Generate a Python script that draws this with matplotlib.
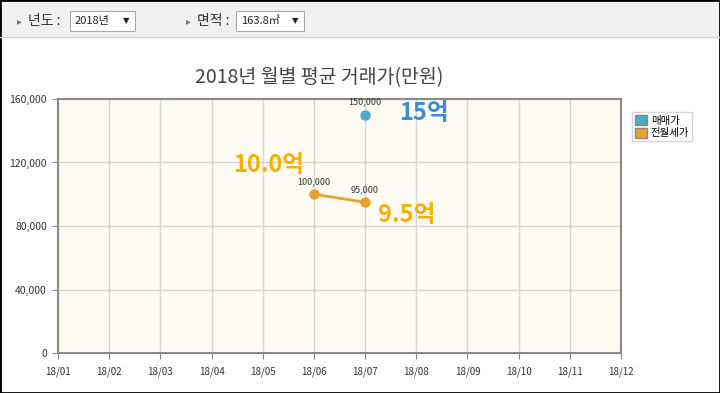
"""Recreate the 2018 monthly average transaction price chart."""
import matplotlib

matplotlib.use("Agg")
import matplotlib.pyplot as plt
from matplotlib.patches import Patch, Rectangle
from matplotlib.ticker import FuncFormatter

plt.rcParams["font.family"] = ["Noto Sans CJK KR", "DejaVu Sans"]

# data
months = ["18/01", "18/02", "18/03", "18/04", "18/05", "18/06",
          "18/07", "18/08", "18/09", "18/10", "18/11", "18/12"]
sale_months = ["18/07"]
sale_values = [150000]
rent_months = ["18/06", "18/07"]
rent_values = [100000, 95000]
y_ticks = [0, 40000, 80000, 120000, 160000]

title = "2018년 월별 평균 거래가(만원)"
series_names = ["매매가", "전월세가"]
callouts = [("15억", "18/07", 151000, "#3d8ad8", 1.15),
            ("10.0억", "18/06", 118500, "#f5b000", -0.88),
            ("9.5억", "18/07", 87000, "#f5b000", 0.82)]

SALE_COLOR = "#4aacc5"
RENT_COLOR = "#e8a12e"

fig = plt.figure(figsize=(7.2, 3.93), dpi=100)
fig.patch.set_facecolor("white")

# top filter bar
fig.patches.append(Rectangle((0, 1 - 37 / 393), 1, 37 / 393, transform=fig.transFigure,
                             facecolor="#f1f1f1", edgecolor="none", zorder=0))
fig.lines.append(plt.Line2D([0, 1], [1 - 37 / 393] * 2, transform=fig.transFigure,
                            color="#d4d4d4", lw=1))
bar_y = 1 - 21 / 393
for label, lx, box_x, box_w, value in [("년도 :", 28, 70, 65, "2018년"),
                                      ("면적 :", 197, 236, 68, "163.8㎡")]:
    fig.text((lx - 11) / 720, bar_y, "▸", fontsize=7, color="#777", va="center",
             family=["DejaVu Sans"])
    fig.text(lx / 720, bar_y, label, fontsize=10, color="#333", va="center")
    fig.patches.append(Rectangle((box_x / 720, 1 - 31 / 393), box_w / 720, 20 / 393,
                                 transform=fig.transFigure, facecolor="white",
                                 edgecolor="#a9a9a9", lw=0.8))
    fig.text((box_x + 5) / 720, bar_y, value, fontsize=8, color="#222", va="center")
    fig.text((box_x + box_w - 12) / 720, bar_y, "▼", fontsize=6, color="#222",
             va="center", family=["DejaVu Sans"])

ax = fig.add_axes([58 / 720, 40 / 393, 563 / 720, 254 / 393])
ax.set_facecolor("#fffcf4")
idx = {m: i for i, m in enumerate(months)}

sx = [idx[m] for m in sale_months]
rx = [idx[m] for m in rent_months]
ax.plot(sx, sale_values, marker="o", ms=6.5, color=SALE_COLOR, lw=2, zorder=3)
ax.plot(rx, rent_values, marker="o", ms=6.5, color=RENT_COLOR, lw=2, zorder=3)
for x, v in list(zip(sx, sale_values)) + list(zip(rx, rent_values)):
    ax.annotate(f"{v:,}", (x, v), xytext=(0, 6), textcoords="offset points",
                ha="center", va="bottom", fontsize=6.5, color="#333")

for text, m, y, color, dx in callouts:
    ax.text(idx[m] + dx, y, text, fontsize=17, fontweight="bold", color=color,
            ha="center", va="center")

ax.set_xlim(0, len(months) - 1)
ax.set_ylim(0, 160000)
ax.set_xticks(range(len(months)), months)
ax.set_yticks(y_ticks)
ax.yaxis.set_major_formatter(FuncFormatter(lambda v, _: f"{int(v):,}"))
ax.tick_params(labelsize=7, colors="#333", length=4, color="#888")
ax.tick_params(axis="y", labelsize=7.5, pad=4)
ax.tick_params(axis="x", pad=6)
ax.grid(True, color="#d6d6d6", lw=1)
for s in ax.spines.values():
    s.set_color("#8a8a8a")
    s.set_linewidth(1.5)

fig.text(319 / 720, 1 - 78 / 393, title, fontsize=14, color="#444",
         ha="center", va="center")

handles = [Patch(facecolor=SALE_COLOR, edgecolor="#888"),
           Patch(facecolor=RENT_COLOR, edgecolor="#888")]
fig.legend(handles, series_names, loc="upper left", bbox_to_anchor=(632 / 720, 1 - 112 / 393),
           fontsize=7.5, frameon=True, fancybox=False, edgecolor="#cccccc",
           handlelength=1.1, handleheight=1.1, handletextpad=0.4, borderpad=0.3,
           labelspacing=0.2, borderaxespad=0)

fig.patches.append(Rectangle((0, 0), 1, 1, transform=fig.transFigure, facecolor="none",
                             edgecolor="black", lw=2))

fig.savefig("out.png", dpi=100)
